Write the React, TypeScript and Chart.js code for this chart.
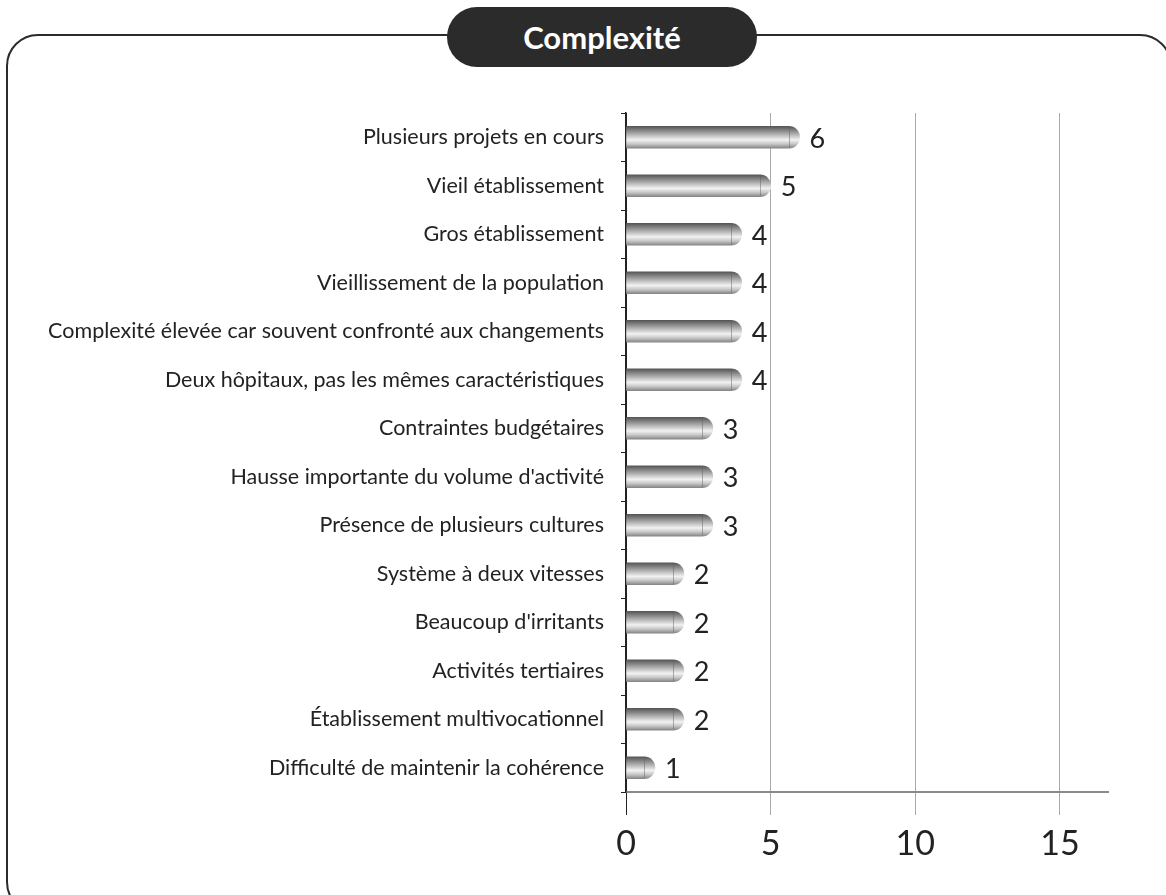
import React, { useEffect, useRef } from "react";
import { Chart, registerables } from "chart.js";

Chart.register(...registerables);

const title = "Complexité";
const categories = [
  "Plusieurs projets en cours",
  "Vieil établissement",
  "Gros établissement",
  "Vieillissement de la population",
  "Complexité élevée car souvent confronté aux changements",
  "Deux hôpitaux, pas les mêmes caractéristiques",
  "Contraintes budgétaires",
  "Hausse importante du volume d'activité",
  "Présence de plusieurs cultures",
  "Système à deux vitesses",
  "Beaucoup d'irritants",
  "Activités tertiaires",
  "Établissement multivocationnel",
  "Difficulté de maintenir la cohérence",
];
const values = [6, 5, 4, 4, 4, 4, 3, 3, 3, 2, 2, 2, 2, 1];
const xTicks = [0, 5, 10, 15];
const xMax = 16.66;

const FONT = "Lato, 'Open Sans', sans-serif";
const BAR_H = 22;

const valueLabels = {
  id: "valueLabels",
  afterDatasetsDraw(chart: any) {
    const ctx = chart.ctx;
    const meta = chart.getDatasetMeta(0);
    ctx.save();
    meta.data.forEach((el: any, i: number) => {
      const r = Math.min(BAR_H / 2, (el.x - el.base) / 2);
      ctx.strokeStyle = "rgba(90,90,90,0.45)";
      ctx.lineWidth = 1;
      ctx.beginPath();
      ctx.moveTo(Math.round(el.x - r) + 0.5, el.y - BAR_H / 2 + 1);
      ctx.lineTo(Math.round(el.x - r) + 0.5, el.y + BAR_H / 2 - 1);
      ctx.stroke();
      ctx.fillStyle = "#222";
      ctx.font = `27px ${FONT}`;
      ctx.textAlign = "left";
      ctx.textBaseline = "middle";
      ctx.fillText(String(values[i]), el.x + 10, el.y + 2);
    });
    ctx.restore();
  },
};

export default function App() {
  const ref = useRef<HTMLCanvasElement | null>(null);
  useEffect(() => {
    document.body.style.margin = "0";
    const canvas = ref.current!;
    const chart = new Chart(canvas, {
      type: "bar",
      data: {
        labels: categories,
        datasets: [
          {
            data: values,
            barThickness: BAR_H,
            borderRadius: BAR_H / 2,
            borderSkipped: "start",
            backgroundColor: (c: any) => {
              const ch = c.chart;
              const y = ch.scales && ch.scales.y;
              if (!y || typeof c.dataIndex !== "number") return "#999";
              const cy = y.getPixelForValue(c.dataIndex);
              if (!isFinite(cy)) return "#999";
              const g = ch.ctx.createLinearGradient(0, cy - BAR_H / 2, 0, cy + BAR_H / 2);
              g.addColorStop(0, "#555555");
              g.addColorStop(0.3, "#a0a0a0");
              g.addColorStop(0.62, "#f2f2f2");
              g.addColorStop(0.8, "#c8c8c8");
              g.addColorStop(1, "#858585");
              return g;
            },
          },
        ],
      },
      options: {
        indexAxis: "y",
        animation: false,
        responsive: false,
        maintainAspectRatio: false,
        events: [],
        layout: { padding: { top: 113, right: 58, left: 0, bottom: 0 } },
        plugins: {
          legend: { display: false },
          tooltip: { enabled: false },
          title: { display: false },
        },
        scales: {
          x: {
            type: "linear",
            min: 0,
            max: xMax,
            afterBuildTicks: (s: any) => {
              s.ticks = xTicks.map((v) => ({ value: v }));
            },
            afterFit: (s: any) => {
              s.height = 103;
            },
            ticks: {
              color: "#222",
              font: { family: FONT, size: 34 },
              padding: 9,
            },
            grid: {
              color: (c: any) => (c.tick && c.tick.value === 0 ? "#222" : "#aaa"),
              lineWidth: 1,
              tickLength: 23,
              drawOnChartArea: true,
            },
            border: { display: true, color: "#8a8a8a", width: 2 },
          },
          y: {
            type: "category",
            afterFit: (s: any) => {
              s.width = 626;
            },
            ticks: {
              color: "#222",
              font: { family: FONT, size: 21.5 },
              padding: 17,
            },
            grid: {
              offset: true,
              drawOnChartArea: false,
              tickLength: 5,
              color: "#222",
            },
            border: { display: true, color: "#222", width: 1.5 },
          },
        },
      },
      plugins: [valueLabels],
    } as any);
    return () => chart.destroy();
  }, []);

  return (
    <div style={{ position: "relative", width: 1166, height: 895, overflow: "hidden", background: "#fff" }}>
      <div
        style={{
          position: "absolute",
          left: 6,
          top: 34,
          width: 1166,
          height: 880,
          border: "2.5px solid #2b2b2b",
          borderRadius: 32,
          boxSizing: "border-box",
        }}
      />
      <canvas ref={ref} width={1166} height={895} style={{ position: "absolute", left: 0, top: 0 }} />
      <div
        style={{
          position: "absolute",
          left: 447,
          top: 7,
          width: 310,
          height: 60,
          background: "#2b2b2b",
          borderRadius: 30,
          color: "#fff",
          fontFamily: FONT,
          fontWeight: 700,
          fontSize: 31,
          display: "flex",
          alignItems: "center",
          justifyContent: "center",
        }}
      >
        {title}
      </div>
    </div>
  );
}
